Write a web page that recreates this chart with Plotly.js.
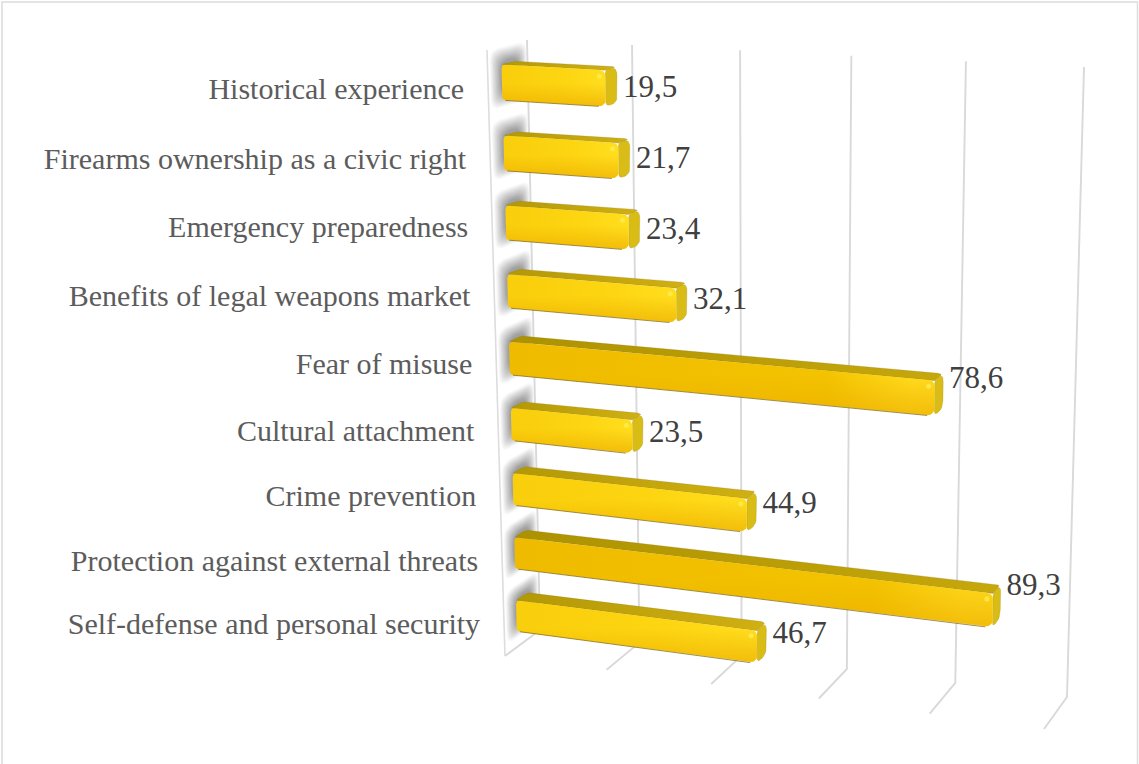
<!DOCTYPE html>
<html><head><meta charset="utf-8">
<script src="https://cdn.plot.ly/plotly-3.0.1.min.js"></script>
<style>html,body{margin:0;padding:0;background:#fff;overflow:hidden}</style>
</head><body><div id="chart" style="width:1139px;height:764px"></div>
<script>
const categories = ["Historical experience","Firearms ownership as a civic right","Emergency preparedness","Benefits of legal weapons market","Fear of misuse","Cultural attachment","Crime prevention","Protection against external threats","Self-defense and personal security"];
const values = [19.5,21.7,23.4,32.1,78.6,23.5,44.9,89.3,46.7];
const valueLabels = ["19,5","21,7","23,4","32,1","78,6","23,5","44,9","89,3","46,7"];
const gridValues = [0,20,40,60,80,100];

// perspective box of the chart, projected on to the page
const box = {
  front:{lt:[487,50],lb:[505,656],rt:[1057,83],rb:[1044,729]},
  back:{lt:[527,40],lb:[540,630],rt:[1084,67],rb:[1067,697]}
};
const warpV = v=>{const t=v/100;return t/(1+0.076*(1-t));};
const warpC = c=>{const s=c/categories.length;return s*1.08/(1+0.08*s);};
function P(v,c,d){
  const t=warpV(v), s=warpC(c);
  return [0,1].map(k=>{
    const f=(1-t)*((1-s)*box.front.lt[k]+s*box.front.lb[k])+t*((1-s)*box.front.rt[k]+s*box.front.rb[k]);
    const b=(1-t)*((1-s)*box.back.lt[k]+s*box.back.lb[k])+t*((1-s)*box.back.rt[k]+s*box.back.rb[k]);
    return f*(1-d)+b*d;
  });
}
function rounded(poly,radii){
  const out=[],n=poly.length;
  for(let i=0;i<n;i++){
    const p=poly[i],a=poly[(i+n-1)%n],b=poly[(i+1)%n],r=radii[i];
    if(!r){out.push(p);continue;}
    const la=Math.hypot(a[0]-p[0],a[1]-p[1]),lb=Math.hypot(b[0]-p[0],b[1]-p[1]);
    const ra=Math.min(r,la/2)/la,rb=Math.min(r,lb/2)/lb;
    const p0=[p[0]+(a[0]-p[0])*ra,p[1]+(a[1]-p[1])*ra],p2=[p[0]+(b[0]-p[0])*rb,p[1]+(b[1]-p[1])*rb];
    for(let u=0;u<=6;u++){const q=u/6;
      out.push([(1-q)*(1-q)*p0[0]+2*q*(1-q)*p[0]+q*q*p2[0],(1-q)*(1-q)*p0[1]+2*q*(1-q)*p[1]+q*q*p2[1]]);}
  }
  return out;
}
const closed=pts=>pts.concat([pts[0]]);
const base={type:'scatter',hoverinfo:'skip',showlegend:false};
function polyTrace(pts,extra){
  const c=closed(pts);
  return Object.assign({},base,{x:c.map(p=>p[0]),y:c.map(p=>p[1]),mode:'lines',fill:'toself'},extra);
}
const traces=[];
const D1=0.35,D2=0.66,W=0.25;

// soft shadow of each bar on the left wall
const shadowSteps=14;
for(let l=0;l<shadowSteps;l++){
  const q=l/(shadowSteps-1);
  const w=0.43-0.19*q, d0=0.06+0.26*q, d1=0.98-0.2*q, alpha=0.03+0.025*q;
  const xs=[],ys=[];
  categories.forEach((_,i)=>{
    const c=i+0.5-0.06;
    const poly=[P(0,c-w,d0),P(0,c-w,d1),P(0,c+w*0.95,d1),P(0,c+w*0.95,d0)];
    const pts=closed(rounded(poly,[10,10,10,10]));
    pts.forEach(p=>{xs.push(p[0]);ys.push(p[1]);});
    xs.push(null);ys.push(null);
  });
  traces.push(Object.assign({},base,{x:xs,y:ys,mode:'lines',fill:'toself',line:{width:0},fillcolor:`rgba(60,60,60,${alpha})`}));
}

// gridlines: floor segment then back wall
gridValues.forEach(v=>{
  const pts=[P(v,categories.length,0),P(v,categories.length,1),P(v,0,1)];
  traces.push(Object.assign({},base,{x:pts.map(p=>p[0]),y:pts.map(p=>p[1]),mode:'lines',line:{color:'#D9D9D9',width:1.9}}));
});
// left wall front edge
{const pts=[P(0,0,0),P(0,categories.length,0)];
 traces.push(Object.assign({},base,{x:pts.map(p=>p[0]),y:pts.map(p=>p[1]),mode:'lines',line:{color:'#DDDDDD',width:1.6}}));}

// the bars
values.forEach((v,i)=>{
  const c=i+0.5,long=v>60;
  const a=P(0,c-W,D1),b=P(v,c-W,D1),e=P(v,c+W,D1),f=P(0,c+W,D1);
  const a2=P(0,c-W,D2),b2=P(v,c-W,D2),e2=P(v,c+W,D2);
  traces.push(polyTrace(rounded([a,a2,b2,b],[3,4,5,0]),{line:{color:'rgba(130,110,20,0.35)',width:0.6},
    fillgradient:{type:'horizontal',colorscale:long?[[0,'#AD9200'],[1,'#C6A70C']]:[[0,'#B39806'],[1,'#D0B012']]}}));
  traces.push(polyTrace(rounded([b,b2,e2,e],[3,8,8,5]),{line:{color:'rgba(150,130,20,0.4)',width:0.6},fillcolor:'#DABC16'}));
  const front=rounded([a,b,e,f],[4,6,8,4]);
  traces.push(polyTrace(front,{line:{width:0},fillgradient:{type:'horizontal',
    colorscale:long?[[0,'#EFBB00'],[0.75,'#F3C300'],[0.94,'#FFDB1C'],[1,'#FFDC1E']]:[[0,'#F9CE0C'],[0.6,'#FDD511'],[1,'#FFDE1E']]}}));
  traces.push(polyTrace(front,{line:{width:0},fillgradient:{type:'vertical',
    colorscale:[[0,'rgba(236,172,0,0.65)'],[0.55,'rgba(236,172,0,0)'],[1,'rgba(236,172,0,0)']]}}));
  const under=[P(0,c+W,D1),P(v,c+W,D1)];
  traces.push(Object.assign({},base,{x:[under[0][0]+3,under[1][0]-7],y:[under[0][1]+0.3,under[1][1]-0.2],mode:'lines',line:{color:'rgba(125,105,25,0.75)',width:1}}));
  const spot=P(v,c-W*0.68,D1);
  traces.push(Object.assign({},base,{x:[spot[0]-6],y:[spot[1]],mode:'markers',marker:{size:5,color:'rgba(255,240,90,0.7)'}}));
});

// category labels, right aligned beside the wall
const labelPts=categories.map((_,i)=>P(0,i+0.5,0));
traces.push(Object.assign({},base,{x:labelPts.map(p=>p[0]-24),y:labelPts.map((p,i)=>p[1]+2+Math.max(0,3-1.5*i)),mode:'text',text:categories,textposition:'middle left',
  textfont:{family:'"Liberation Serif",serif',size:30,color:'#5C5C5C'}}));
// value labels beside the bar end
const valPts=values.map((v,i)=>P(v,i+0.5,D2));
traces.push(Object.assign({},base,{x:valPts.map(p=>p[0]+6),y:valPts.map((p,i)=>p[1]+10-0.27*values[i]),mode:'text',text:valueLabels,textposition:'middle right',
  textfont:{family:'"Liberation Serif",serif',size:31,color:'#404040'}}));

const layout={width:1139,height:764,margin:{l:0,r:0,t:0,b:0},paper_bgcolor:'#fff',plot_bgcolor:'#fff',showlegend:false,
  xaxis:{range:[0,1139],visible:false,fixedrange:true},yaxis:{range:[764,0],visible:false,fixedrange:true},
  shapes:[{type:'rect',xref:'paper',yref:'paper',x0:2/1139,x1:1137.5/1139,y0:-0.01,y1:1-2/764,line:{color:'#DCDCDC',width:1.5}}]};
Plotly.newPlot('chart',traces,layout,{displayModeBar:false,staticPlot:true});
</script></body></html>
